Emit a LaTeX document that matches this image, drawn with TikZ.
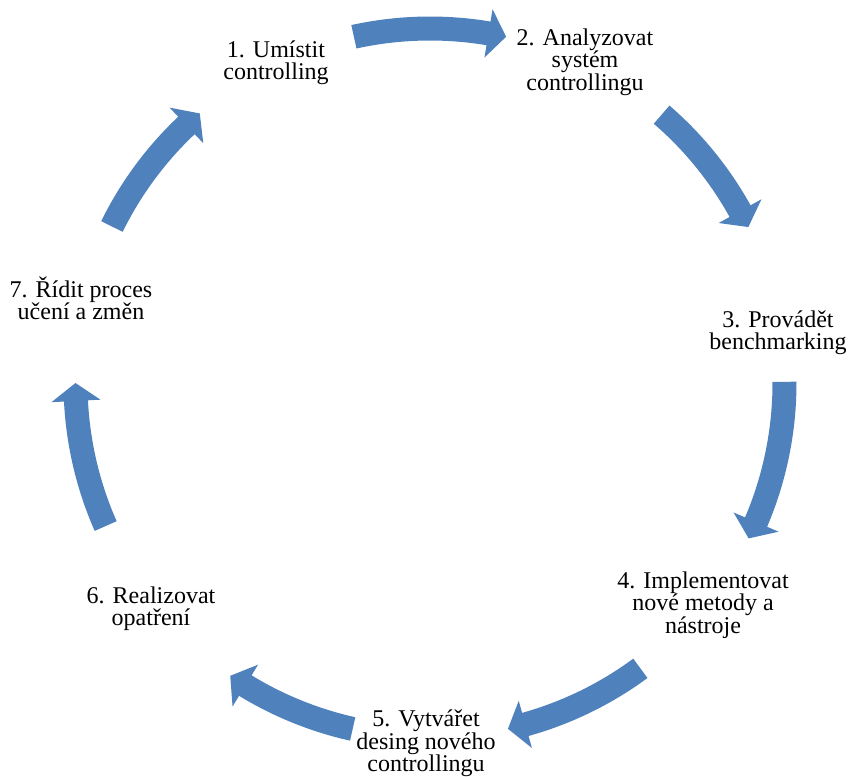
\documentclass[tikz,border=0pt]{standalone}
\usepackage{fontspec}
\setmainfont{Liberation Serif}
\definecolor{cyclefill}{HTML}{4F81BD}
\tikzset{
  steplabel/.style={align=center, anchor=base, inner sep=0pt,
    font=\fontsize{24}{22.5}\selectfont},
}
% radii of the curved block arrows (in px-like pt units)
\def\rmid{354.5}
\def\bodyw{12}
\def\headw{24.5}
\def\headang{2.9}
\begin{document}
\begin{tikzpicture}[x=1pt,y=1pt]
  \useasboundingbox (0,0) rectangle (848,-776);
  % curved block arrows, drawn clockwise around the common centre
  \begin{scope}[shift={(430,-383)}]
    \foreach \ta/\tb in {102.4/77.6, 49.2/26.1, 0.2/-26.0, -53.6/-77.3,
                         -102.6/-124.3, -156.2/-180, -206.2/-229.5}{
      \pgfmathsetmacro{\tc}{\tb+\headang}
      \pgfmathsetmacro{\ro}{\rmid+\bodyw}
      \pgfmathsetmacro{\ri}{\rmid-\bodyw}
      \pgfmathsetmacro{\rho}{\rmid+\headw}
      \pgfmathsetmacro{\rhi}{\rmid-\headw}
      \fill[cyclefill] (\ta:\ro) arc[start angle=\ta, end angle=\tc, radius=\ro]
        -- (\tc:\rho) -- (\tb:\rmid) -- (\tc:\rhi) -- (\tc:\ri)
        arc[start angle=\tc, end angle=\ta, radius=\ri] -- cycle;
    }
  \end{scope}
  % step labels (anchored at the baseline of the last line)
  \node[steplabel] (s1) at (276,-79.5)  {1. Umístit\\controlling};
  \node[steplabel] (s2) at (585,-90)    {2. Analyzovat\\systém\\controllingu};
  \node[steplabel] (s3) at (778,-349.5) {3. Provádět\\benchmarking};
  \node[steplabel] (s4) at (703,-633)   {4. Implementovat\\nové metody a\\nástroje};
  \node[steplabel] (s5) at (426,-771.5) {5. Vytvářet\\desing nového\\controllingu};
  \node[steplabel] (s6) at (151,-625.5) {6. Realizovat\\opatření};
  \node[steplabel] (s7) at (81,-319.5)  {7. Řídit proces\\učení a změn};
\end{tikzpicture}
\end{document}
